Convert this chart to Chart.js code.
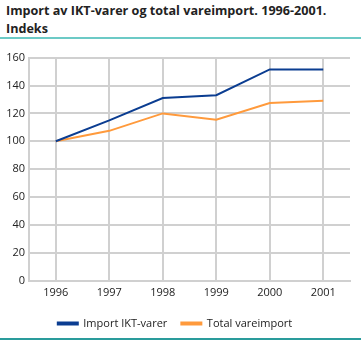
<!DOCTYPE html>
<html>
<head>
<meta charset="utf-8">
<script src="https://cdn.jsdelivr.net/npm/chart.js@4/dist/chart.umd.min.js"></script>
<style>
  body { margin: 0; background: #fff; font-family: "Open Sans", sans-serif; }
  #wrap { position: relative; width: 361px; height: 340px; overflow: hidden; }
  #title { position: absolute; left: 6px; top: 2px; font-size: 12.6px; font-weight: bold; line-height: 18px; color: #222; }
  #topline { position: absolute; left: 0; top: 37px; width: 361px; height: 2px; background: #6ccac6; }
  #botline { position: absolute; left: 0; top: 338px; width: 361px; height: 2px; background: #2a9c9c; }
  #box { position: absolute; left: 0; top: 47px; width: 361px; height: 292px; }
</style>
</head>
<body>
<div id="wrap">
  <div id="title">Import av IKT-varer og total vareimport. 1996-2001.<br>Indeks</div>
  <div id="topline"></div>
  <div id="box"><canvas id="importChart"></canvas></div>
  <div id="botline"></div>
</div>
<script>
const years = ['1996', '1997', '1998', '1999', '2000', '2001'];
const iktVarer = [100, 115, 131, 133, 151.5, 151.5];
const totalVareimport = [100, 107.5, 120, 115.5, 127.5, 129];

function initializeChart() {
    const ctx = document.getElementById('importChart').getContext('2d');
    new Chart(ctx, {
        type: 'line',
        data: {
            labels: years,
            datasets: [
                {
                    label: 'Import IKT-varer',
                    data: iktVarer,
                    borderColor: '#0b3d91',
                    backgroundColor: '#0b3d91',
                    borderWidth: 2,
                    pointRadius: 0,
                    tension: 0,
                    fill: false,
                },
                {
                    label: 'Total vareimport',
                    data: totalVareimport,
                    borderColor: '#ff9a3c',
                    backgroundColor: '#ff9a3c',
                    borderWidth: 2,
                    pointRadius: 0,
                    tension: 0,
                    fill: false,
                },
            ]
        },
        options: {
            responsive: true,
            maintainAspectRatio: false,
            animation: false,
            layout: { padding: { left: 0, right: 11, top: 6, bottom: 0 } },
            plugins: {
                legend: {
                    position: 'bottom',
                    labels: {
                        boxWidth: 20,
                        boxHeight: 2,
                        padding: 14,
                        color: '#222',
                        font: { family: 'Open Sans', size: 11 }
                    }
                },
                tooltip: { enabled: false }
            },
            scales: {
                x: {
                    offset: true,
                    grid: { color: '#d0d0d0', lineWidth: 2, drawTicks: false },
                    border: { color: '#d0d0d0', width: 2 },
                    ticks: { color: '#222', font: { family: 'Open Sans', size: 11 }, padding: 5 }
                },
                y: {
                    min: 0,
                    max: 160,
                    ticks: { stepSize: 20, color: '#222', font: { family: 'Open Sans', size: 11 }, padding: 4 },
                    grid: { color: '#d0d0d0', lineWidth: 2, drawTicks: false },
                    border: { color: '#d0d0d0', width: 2 },
                    afterFit: (scale) => { scale.width = 29; }
                }
            }
        }
    });
}

window.onload = initializeChart;
</script>
</body>
</html>
